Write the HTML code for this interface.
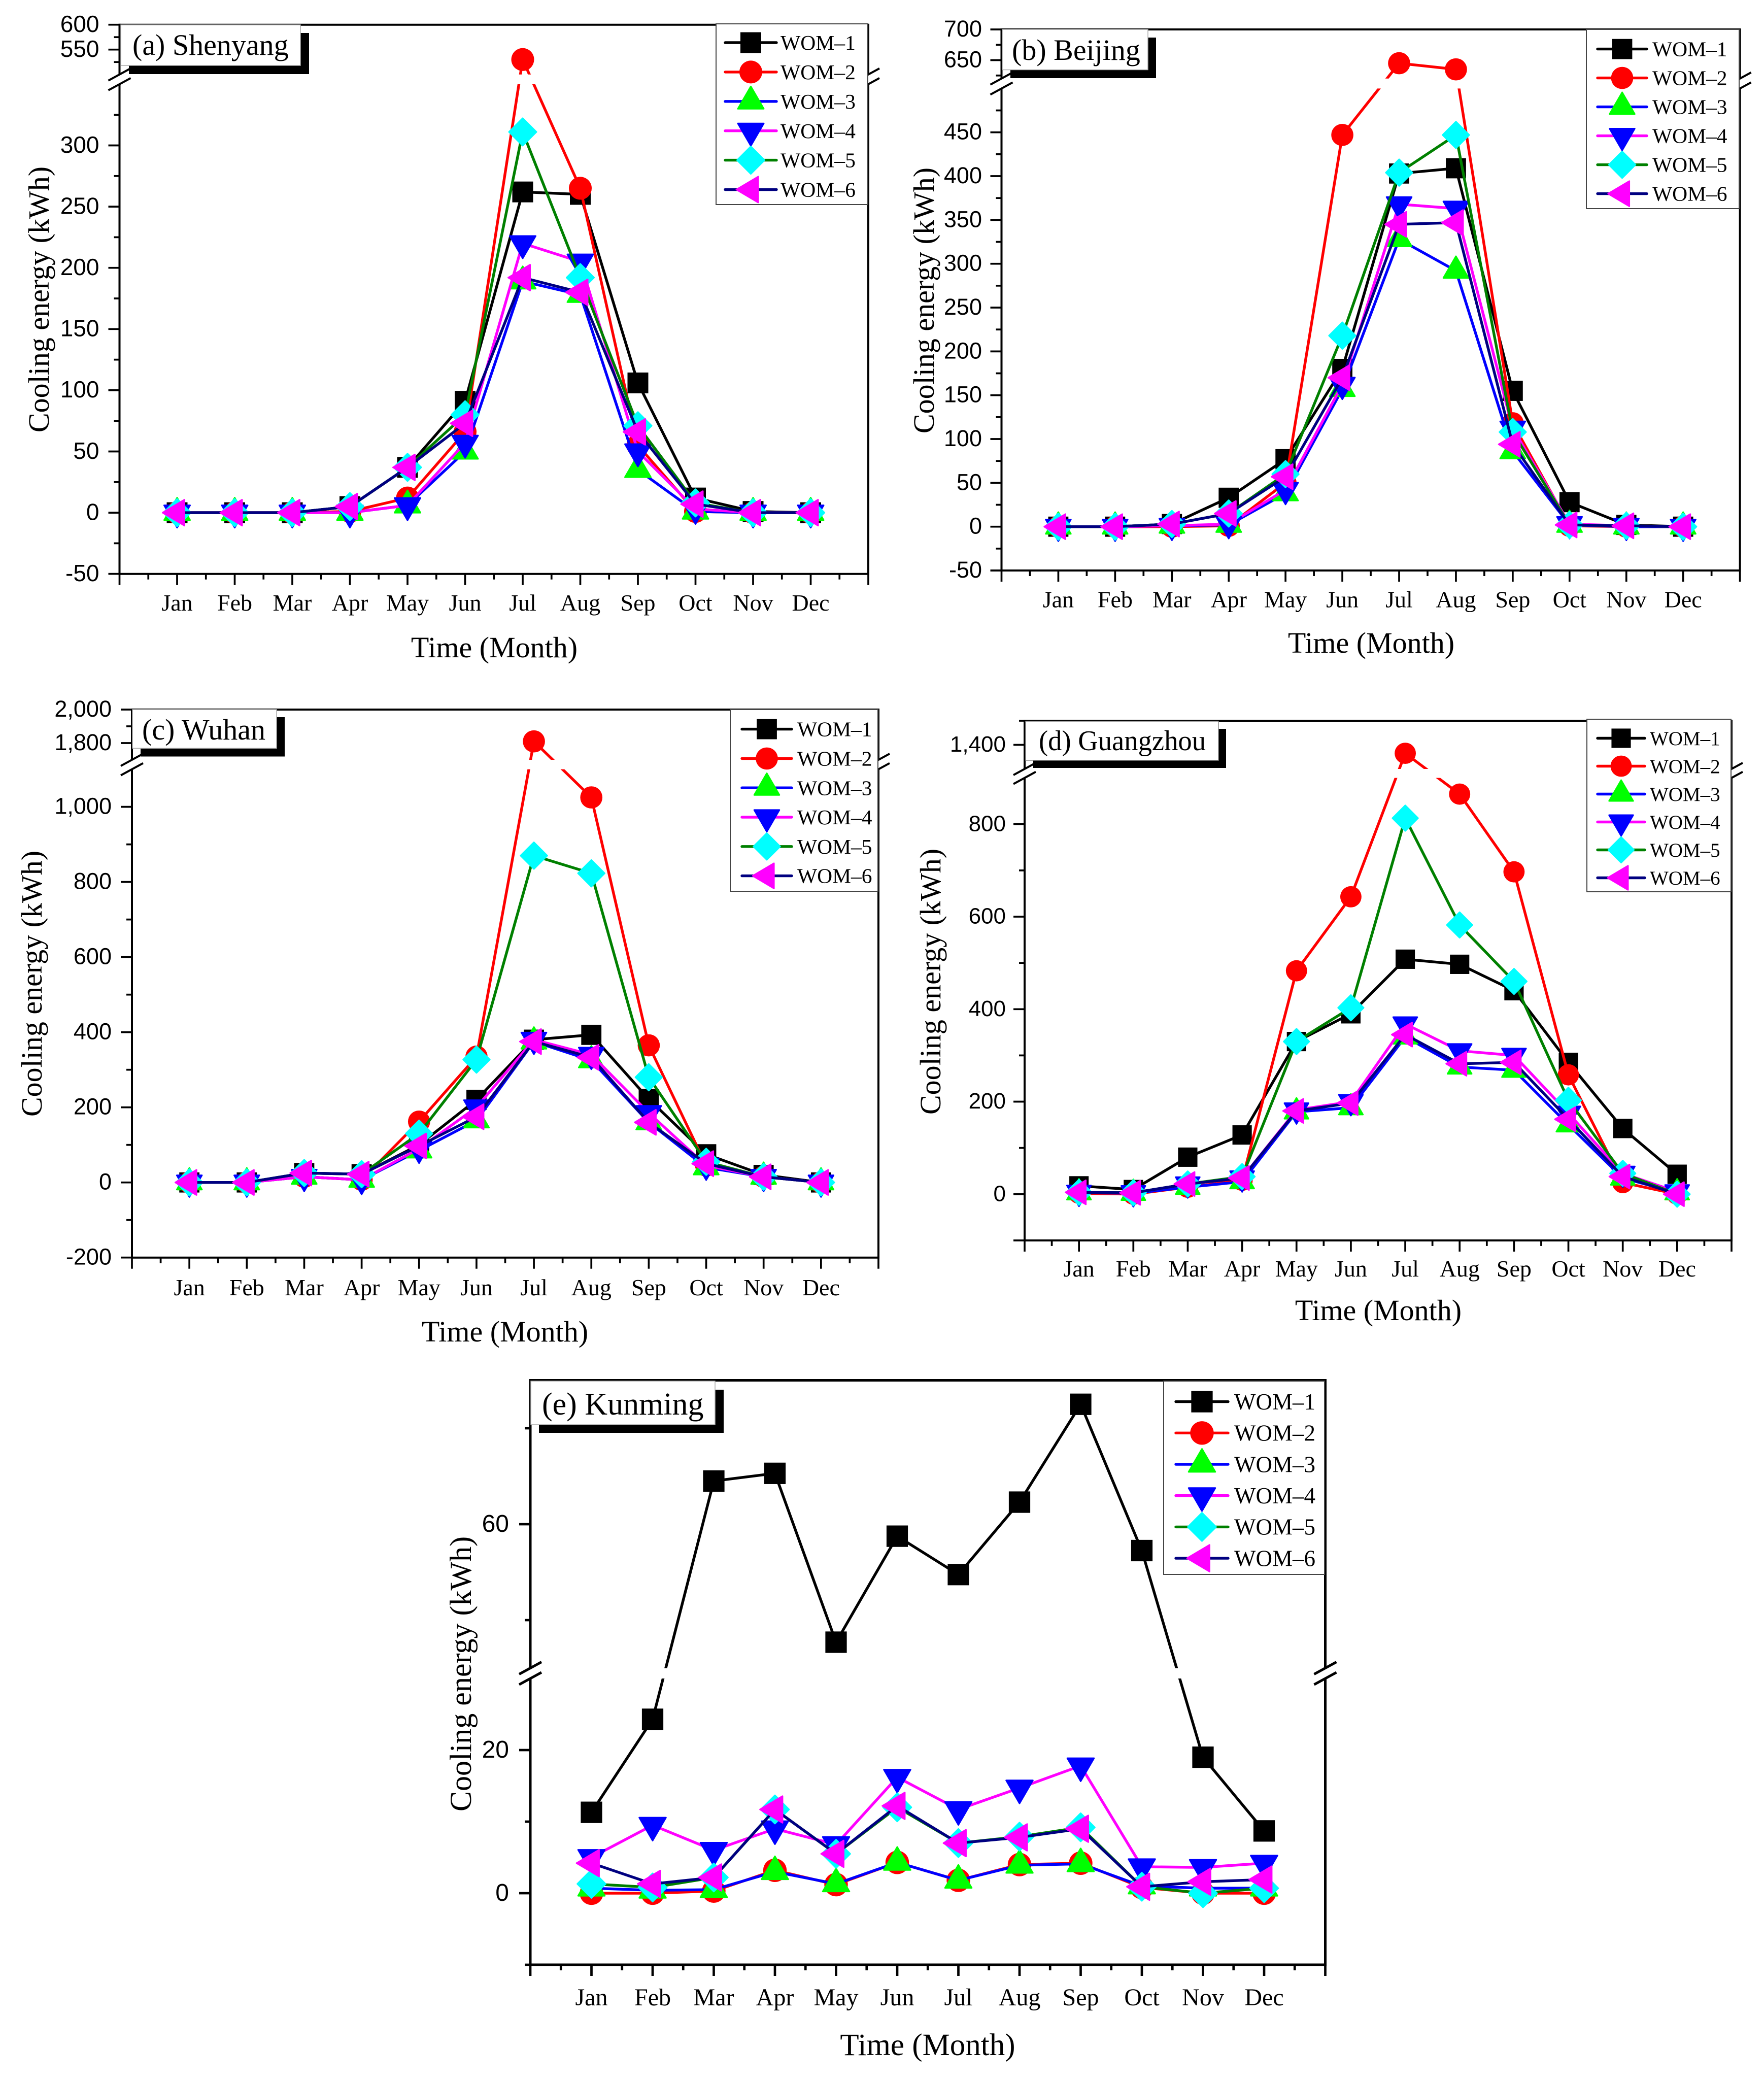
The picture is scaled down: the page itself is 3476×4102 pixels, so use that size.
<!DOCTYPE html>
<html lang="en">
<head>
<meta charset="utf-8">
<title>Monthly cooling energy by city</title>
<style>
html,body{margin:0;padding:0;background:#fff;width:3476px;height:4102px;overflow:hidden}
svg{display:block}
.serif{font-family:"Liberation Serif","Times New Roman",serif;fill:#000}
.sans{font-family:"Liberation Sans",Arial,sans-serif;fill:#000}
.title{font-size:58px}
</style>
</head>
<body>
<svg id="figure" width="3476" height="4102" viewBox="0 0 3476 4102">
  <rect x="0" y="0" width="3476" height="4102" fill="#fff"/>

  <g id="panel-a">
    <g class="plot"></g>
    <rect x="254" y="65" width="355" height="81" fill="#000"/>
    <rect x="238" y="49" width="354" height="80" fill="#fff" stroke="#aaa" stroke-width="1.5"/>
    <text class="serif" x="261" y="108" font-size="58">(a) Shenyang</text>
    <text class="serif title" text-anchor="middle" transform="translate(96 590) rotate(-90)">Cooling energy (kWh)</text>
    <text class="serif title" text-anchor="middle" x="974" y="1295">Time (Month)</text>
    <g class="legend"></g>
  </g>

  <g id="panel-b">
    <g class="plot"></g>
    <rect x="1991" y="74" width="287" height="80" fill="#000"/>
    <rect x="1975" y="58" width="287" height="79.500" fill="#fff" stroke="#aaa" stroke-width="1.5"/>
    <text class="serif" x="1994" y="118" font-size="58">(b) Beijing</text>
    <text class="serif title" text-anchor="middle" transform="translate(1840 592) rotate(-90)">Cooling energy (kWh)</text>
    <text class="serif title" text-anchor="middle" x="2702" y="1286">Time (Month)</text>
    <g class="legend"></g>
  </g>

  <g id="panel-c">
    <g class="plot"></g>
    <rect x="277" y="1413" width="284" height="77.500" fill="#000"/>
    <rect x="261" y="1398" width="284" height="76.300" fill="#fff" stroke="#aaa" stroke-width="1.5"/>
    <text class="serif" x="280" y="1457" font-size="58">(c) Wuhan</text>
    <text class="serif title" text-anchor="middle" transform="translate(82 1938) rotate(-90)">Cooling energy (kWh)</text>
    <text class="serif title" text-anchor="middle" x="995" y="2643">Time (Month)</text>
    <g class="legend"></g>
  </g>

  <g id="panel-d">
    <g class="plot"></g>
    <rect x="2036" y="1436" width="380" height="77" fill="#000"/>
    <rect x="2021" y="1421" width="380" height="77" fill="#fff" stroke="#888" stroke-width="1.5"/>
    <text class="serif" x="2047" y="1478" font-size="56" textLength="329" lengthAdjust="spacingAndGlyphs">(d) Guangzhou</text>
    <text class="serif title" text-anchor="middle" transform="translate(1853 1934) rotate(-90)">Cooling energy (kWh)</text>
    <text class="serif title" text-anchor="middle" x="2716" y="2601">Time (Month)</text>
    <g class="legend"></g>
  </g>

  <g id="panel-e">
    <g class="plot"></g>
    <rect x="1062" y="2738" width="364" height="85" fill="#000"/>
    <rect x="1046" y="2721" width="363" height="86" fill="#fff" stroke="#aaa" stroke-width="1.5"/>
    <text class="serif" x="1068" y="2787" font-size="62">(e) Kunming</text>
    <text class="serif" font-size="60" text-anchor="middle" transform="translate(928 3298) rotate(-90)">Cooling energy (kWh)</text>
    <text class="serif" font-size="61" text-anchor="middle" x="1828" y="4049">Time (Month)</text>
    <g class="legend"></g>
  </g>
</svg>

<script>
const months = ['Jan','Feb','Mar','Apr','May','Jun','Jul','Aug','Sep','Oct','Nov','Dec'];
const seriesNames = ['WOM–1','WOM–2','WOM–3','WOM–4','WOM–5','WOM–6'];

const shenyangWom1 = [0,0,0,5,37,91,262,260,106,12,1,0];
const shenyangWom2 = [0,0,0,1,12,66,530,265,55,1,0,0];
const shenyangWom3 = [0,0,0,0,6,50,189,178,35,1,0,0];
const shenyangWom4 = [0,0,0,0,6,57,220,205,50,3,0,0];
const shenyangWom5 = [0,0,0,5,37,80,311,192,71,8,0,0];
const shenyangWom6 = [0,0,0,5,37,73,192,180,66,7,0,0];
const shenyangMajorTicks = [-50,0,50,100,150,200,250,300,550,600];
const shenyangMinorTicks = [-25,25,75,125,175,225,275,325,525,575];

const beijingWom1 = [0,0,3,33,77,180,403,409,155,28,2,0];
const beijingWom2 = [0,0,0,1,50,447,645,635,118,1,0,0];
const beijingWom3 = [0,0,1,2,38,157,328,292,86,2,0,0];
const beijingWom4 = [0,0,1,3,42,162,368,363,112,3,1,0];
const beijingWom5 = [0,0,3,15,60,218,404,447,108,2,1,0];
const beijingWom6 = [0,0,3,15,57,170,345,347,94,2,1,0];
const beijingMajorTicks = [-50,0,50,100,150,200,250,300,350,400,450,650,700];
const beijingMinorTicks = [-25,25,75,125,175,225,275,325,375,425,475,625,675];

const wuhanWom1 = [0,0,25,22,100,220,380,393,222,75,20,0];
const wuhanWom2 = [0,0,15,7,162,335,1810,1025,365,45,15,0];
const wuhanWom3 = [0,0,15,7,85,165,375,325,160,40,15,0];
const wuhanWom4 = [0,0,15,7,90,200,380,340,185,45,15,0];
const wuhanWom5 = [0,0,25,22,130,327,870,823,280,55,15,0];
const wuhanWom6 = [0,0,25,22,97,175,375,333,160,50,15,0];
const wuhanMajorTicks = [-200,0,200,400,600,800,1000,1800,2000];
const wuhanMinorTicks = [-100,100,300,500,700,900,1900];

const guangzhouWom1 = [18,10,80,128,330,390,508,497,440,285,142,43];
const guangzhouWom2 = [2,0,15,30,483,643,1365,865,697,258,25,0];
const guangzhouWom3 = [3,2,15,27,178,187,340,275,268,150,35,3];
const guangzhouWom4 = [4,3,22,35,182,200,368,310,300,175,45,5];
const guangzhouWom5 = [4,3,22,38,330,403,813,582,460,203,45,0];
const guangzhouWom6 = [4,3,22,35,180,197,345,282,285,162,38,0];
const guangzhouMajorTicks = [0,200,400,600,800,1400];
const guangzhouMinorTicks = [100,300,500,700,1500];

const kunmingWom1 = [11.3,24.3,69,70.6,35.4,57.5,49.5,64.6,85,54.5,19,8.7];
const kunmingWom2 = [0,0,0.3,3.2,1.2,4.3,1.8,4,4.2,0.8,0,0];
const kunmingWom3 = [0.7,0.4,0.5,3,1.3,4.3,1.8,3.9,4.1,1,0.7,0.7];
const kunmingWom4 = [5,9.5,6,9,6.8,16.2,11.7,14.7,17.8,3.7,3.6,4.2];
const kunmingWom5 = [1.3,0.8,2.2,11.7,5.5,12,7,7.9,9.2,0.9,0,0.7];
const kunmingWom6 = [4.2,1.3,2.2,11.7,5.5,12.2,7,7.8,9,0.9,1.6,1.9];
const kunmingMajorTicks = [0,20,60];
const kunmingMinorTicks = [10,40,80];

const lineColors = ['#000','#f00','#00f','#f0f','#008000','#000080'];
const markerColors = ['#000','#f00','#0f0','#00f','#0ff','#f0f'];
const markerKinds = ['square','circle','up','down','diamond','left'];

const figure = document.getElementById('figure');
const ns = figure.namespaceURI;

function create(parent, tag, attrs) {
  const el = document.createElementNS(ns, tag);
  for (const key in attrs) el.setAttribute(key, attrs[key]);
  parent.appendChild(el);
  return el;
}

function drawMarker(parent, kind, color, x, y, k, name) {
  let el;
  if (kind === 'square') {
    el = create(parent, 'rect', {x: x - 20.5 * k, y: y - 20.5 * k, width: 41 * k, height: 41 * k, fill: color});
  } else if (kind === 'circle') {
    el = create(parent, 'circle', {cx: x, cy: y, r: 22.5 * k, fill: color});
  } else {
    const shapes = {
      up: [[-25.5,14.5],[25.5,14.5],[0,-29.5]],
      down: [[-25.5,-14.5],[25.5,-14.5],[0,29.5]],
      left: [[-28.5,0],[14.5,-25.5],[14.5,25.5]],
      diamond: [[-27,0],[0,-27],[27,0],[0,27]]
    };
    const points = shapes[kind].map(p => (x + p[0] * k) + ',' + (y + p[1] * k)).join(' ');
    el = create(parent, 'polygon', {points: points, fill: color, stroke: color, 'stroke-width': 3, 'stroke-linejoin': 'round'});
  }
  
  
  return el;
}

function drawAxisLine(parent, x1, y1, x2, y2, width, name) {
  const el = create(parent, 'line', {x1: x1, y1: y1, x2: x2, y2: y2, stroke: '#000', 'stroke-width': width});
  
  
  return el;
}

function drawPanel(cfg) {
  const panel = document.getElementById(cfg.id);
  const plot = panel.querySelector('.plot');
  const key = cfg.key;

  const xScale = v => cfg.left + (cfg.right - cfg.left) * v / 13;
  const lowerY = v => cfg.lower[1] + (v - cfg.lower[0]) * (cfg.lower[3] - cfg.lower[1]) / (cfg.lower[2] - cfg.lower[0]);
  const upperY = v => cfg.upper[1] + (v - cfg.upper[0]) * (cfg.upper[3] - cfg.upper[1]) / (cfg.upper[2] - cfg.upper[0]);
  const yScale = v => v >= cfg.upperMin ? upperY(v) : lowerY(v);

  const top = upperY(cfg.upperMax);
  const bottom = lowerY(cfg.lowerMin);
  const breakUpper = upperY(cfg.upperMin);
  const breakLower = lowerY(cfg.lowerMax);

  const clip = create(plot, 'clipPath', {id: 'clip-' + cfg.id});
  create(clip, 'rect', {x: cfg.left - 40, y: top - 40, width: cfg.right - cfg.left + 80, height: breakUpper - top + 40});
  create(clip, 'rect', {x: cfg.left - 40, y: breakLower, width: cfg.right - cfg.left + 80, height: bottom - breakLower + 40});

  const axisWidth = cfg.axisWidth;
  const tickWidth = axisWidth - 0.3;
  [cfg.left, cfg.right].forEach((x, i) => {
    const side = i === 0 ? 'left' : 'right';
    drawAxisLine(plot, x, top - axisWidth / 2, x, breakUpper, axisWidth, key + '-' + side + '-axis-upper');
    drawAxisLine(plot, x, breakLower, x, bottom + axisWidth / 2, axisWidth, key + '-' + side + '-axis-lower');
    const reach = 22;
    const rise = 12;
    drawAxisLine(plot, x - reach, breakUpper + rise, x + reach, breakUpper - rise, axisWidth, key + '-' + side + '-axis-break-upper');
    drawAxisLine(plot, x - reach, breakLower + rise, x + reach, breakLower - rise, axisWidth, key + '-' + side + '-axis-break-lower');
  });
  drawAxisLine(plot, cfg.left, top, cfg.right, top, axisWidth, key + '-top-axis');
  drawAxisLine(plot, cfg.left, bottom, cfg.right, bottom, axisWidth, key + '-bottom-axis');

  cfg.minorTicks.forEach(v => {
    const y = yScale(v);
    drawAxisLine(plot, cfg.left - 11, y, cfg.left, y, tickWidth, key + '-y-minor-tick');
  });
  cfg.majorTicks.forEach(v => {
    const y = yScale(v);
    drawAxisLine(plot, cfg.left - 22, y, cfg.left, y, tickWidth, key + '-y-major-tick');
    const label = create(plot, 'text', {x: cfg.left - cfg.tickGap, y: y + cfg.tickSize * 0.31, 'text-anchor': 'end', 'font-size': cfg.tickSize, class: 'sans'});
    
    
    label.textContent = cfg.commas ? v.toLocaleString('en-US') : String(v);
  });
  drawAxisLine(plot, cfg.left - cfg.bottomTick, bottom, cfg.left, bottom, tickWidth, key + '-y-bottom-tick');

  for (let i = 0; i <= 26; i++) {
    const x = xScale(i / 2);
    const length = i % 2 === 0 ? 22 : 11;
    drawAxisLine(plot, x, bottom, x, bottom + length, tickWidth, key + '-x-tick');
  }
  months.forEach((m, i) => {
    const label = create(plot, 'text', {x: xScale(i + 1), y: cfg.monthBaseline, 'text-anchor': 'middle', 'font-size': cfg.monthSize, class: 'serif'});
    
    
    label.textContent = m;
  });

  cfg.series.forEach((values, s) => {
    const group = create(plot, 'g', {});
    
    
    const points = values.map((v, i) => xScale(i + 1) + ',' + yScale(v)).join(' ');
    const line = create(group, 'polyline', {points: points, fill: 'none', stroke: lineColors[s], 'stroke-width': 5.4, 'stroke-linejoin': 'round', 'clip-path': 'url(#clip-' + cfg.id + ')'});
    
    
    values.forEach((v, i) => {
      drawMarker(group, markerKinds[s], markerColors[s], xScale(i + 1), yScale(v), cfg.markerScale, key + '-point-wom-' + (s + 1));
    });
  });

  const legend = panel.querySelector('.legend');
  const box = create(legend, 'rect', {x: cfg.legendBox[0], y: cfg.legendBox[1], width: cfg.legendBox[2] - cfg.legendBox[0], height: cfg.legendBox[3] - cfg.legendBox[1], fill: '#fff', stroke: '#444', 'stroke-width': 2});
  
  
  seriesNames.forEach((name, s) => {
    const rowY = cfg.legendRow0 + s * cfg.legendStep;
    const entry = create(legend, 'g', {});
    
    
    const sample = create(entry, 'line', {x1: cfg.legendLine[0], y1: rowY, x2: cfg.legendLine[1], y2: rowY, stroke: lineColors[s], 'stroke-width': 5.4, 'stroke-linecap': 'round'});
    
    
    drawMarker(entry, markerKinds[s], markerColors[s], (cfg.legendLine[0] + cfg.legendLine[1]) / 2, rowY, cfg.markerScale, key + '-legend-marker-wom-' + (s + 1));
    const text = create(entry, 'text', {x: cfg.legendTextX, y: rowY + cfg.legendSize * 0.34, 'font-size': cfg.legendSize, class: 'serif'});
    
    
    text.textContent = name;
  });
}

drawPanel({
  id: 'panel-a', key: 'shenyang', left: 235.5, right: 1711, axisWidth: 4,
  lower: [-50, 1130.7, 300, 286.5], upper: [600, 48.7, 550, 97.7],
  lowerMin: -50, lowerMax: 350, upperMin: 500, upperMax: 600,
  majorTicks: shenyangMajorTicks, minorTicks: shenyangMinorTicks, bottomTick: 22,
  series: [shenyangWom1, shenyangWom2, shenyangWom3, shenyangWom4, shenyangWom5, shenyangWom6],
  tickSize: 46, tickGap: 40, monthSize: 46, monthBaseline: 1203, markerScale: 1, commas: false,
  legendBox: [1411, 47, 1710, 403], legendRow0: 84, legendStep: 57.9, legendLine: [1429, 1530], legendTextX: 1538, legendSize: 41.6
});

drawPanel({
  id: 'panel-b', key: 'beijing', left: 1973.5, right: 3428.6, axisWidth: 4,
  lower: [-50, 1124, 450, 260.7], upper: [700, 58, 650, 118.5],
  lowerMin: -50, lowerMax: 500, upperMin: 620, upperMax: 700,
  majorTicks: beijingMajorTicks, minorTicks: beijingMinorTicks, bottomTick: 22,
  series: [beijingWom1, beijingWom2, beijingWom3, beijingWom4, beijingWom5, beijingWom6],
  tickSize: 45, tickGap: 38.5, monthSize: 46, monthBaseline: 1196.6, markerScale: 0.97, commas: false,
  legendBox: [3126, 58, 3427, 411], legendRow0: 96.6, legendStep: 57, legendLine: [3148, 3245], legendTextX: 3256, legendSize: 41.5
});

drawPanel({
  id: 'panel-c', key: 'wuhan', left: 260, right: 1731, axisWidth: 4,
  lower: [-200, 2477.7, 1000, 1589.6], upper: [2000, 1398, 1800, 1464],
  lowerMin: -200, lowerMax: 1100, upperMin: 1700, upperMax: 2000,
  majorTicks: wuhanMajorTicks, minorTicks: wuhanMinorTicks, bottomTick: 22,
  series: [wuhanWom1, wuhanWom2, wuhanWom3, wuhanWom4, wuhanWom5, wuhanWom6],
  tickSize: 45, tickGap: 40, monthSize: 46, monthBaseline: 2552, markerScale: 0.97, commas: true,
  legendBox: [1439, 1398, 1730, 1756], legendRow0: 1436.6, legendStep: 57.8, legendLine: [1462, 1560], legendTextX: 1571, legendSize: 41.5
});

drawPanel({
  id: 'panel-d', key: 'guangzhou', left: 2019, right: 3412, axisWidth: 4,
  lower: [-100, 2443.9, 800, 1623.8], upper: [1500, 1420, 1400, 1467.5],
  lowerMin: -100, lowerMax: 900, upperMin: 1300, upperMax: 1500,
  majorTicks: guangzhouMajorTicks, minorTicks: guangzhouMinorTicks, bottomTick: 22,
  series: [guangzhouWom1, guangzhouWom2, guangzhouWom3, guangzhouWom4, guangzhouWom5, guangzhouWom6],
  tickSize: 44, tickGap: 37, monthSize: 46, monthBaseline: 2515, markerScale: 0.93, commas: true,
  legendBox: [3127, 1417, 3411, 1757], legendRow0: 1454.5, legendStep: 55, legendLine: [3148, 3241], legendTextX: 3251, legendSize: 39
});

drawPanel({
  id: 'panel-e', key: 'kunming', left: 1045, right: 2611.5, axisWidth: 5,
  lower: [-10, 3871, 20, 3448], upper: [60, 3003, 80, 2814],
  lowerMin: -10, lowerMax: 30, upperMin: 30, upperMax: 90,
  majorTicks: kunmingMajorTicks, minorTicks: kunmingMinorTicks, bottomTick: 11,
  series: [kunmingWom1, kunmingWom2, kunmingWom3, kunmingWom4, kunmingWom5, kunmingWom6],
  tickSize: 48, tickGap: 42, monthSize: 48, monthBaseline: 3951, markerScale: 1.03, commas: false,
  legendBox: [2293, 2721, 2610, 3102], legendRow0: 2761.6, legendStep: 61.7, legendLine: [2317, 2420], legendTextX: 2432, legendSize: 45
});
</script>
</body>
</html>
